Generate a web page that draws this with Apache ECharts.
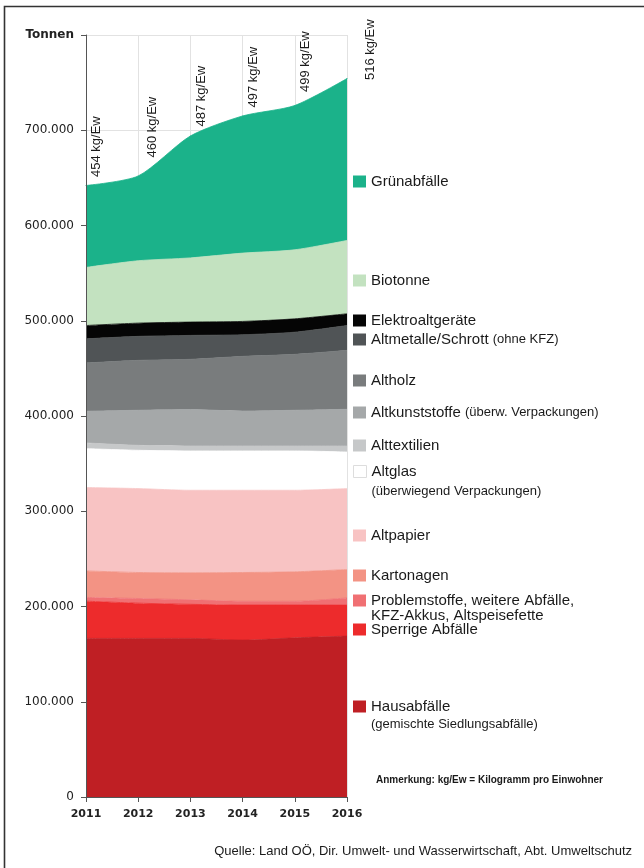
<!DOCTYPE html>
<html><head><meta charset="utf-8">
<script src="https://cdn.jsdelivr.net/npm/echarts@6/dist/echarts.min.js"></script>
<style>html,body{margin:0;padding:0;background:#fff}#c{width:644px;height:868px}</style>
</head><body><div id="c"></div>
<script>
// ---- data ----
const years = ['2011','2012','2013','2014','2015','2016'];
const kgPerEw = [454,460,487,497,499,516];
const yTickLabels = ['0','100.000','200.000','300.000','400.000','500.000','600.000','700.000','Tonnen'];
const hausabfaelle  = [166500,166500,166500,164700,167100,168900];
const sperrige      = [39100,37000,35800,36800,34400,32500];
const problemstoffe = [3900,4900,4700,4000,4000,7600];
const kartonagen    = [27900,27300,28400,30200,30900,29800];
const altpapier     = [87500,88100,86600,86300,85600,85000];
const altglas       = [40800,40200,41300,41300,41300,38400];
const alttextilien  = [6000,5200,5200,5200,5200,6300];
const altkunststoffe= [33300,36800,38200,36700,37500,38500];
const altholz       = [50600,52400,52800,57400,58700,61900];
const altmetalle    = [25400,25200,25100,22700,23300,26100];
const elektro       = [14000,13900,14000,14000,14000,12300];
const biotonne      = [61000,65500,67400,71700,72500,77000];
const gruen         = [86000,89000,128000,144000,151500,170000];

// ---- presentation ----
const FONT = '"Liberation Sans", Arial, sans-serif';
const AXFONT = '"DejaVu Sans", Verdana, sans-serif';
const layers = [
  {name:'Hausabfälle', data:hausabfaelle, color:'#bf1f24', cy:707, text:'{a|Hausabfälle}\n{s2|(gemischte Siedlungsabfälle)}', l2:20},
  {name:'Sperrige Abfälle', data:sperrige, color:'#ed2b2c', cy:630, text:'{a|Sperrige Abfälle}'},
  {name:'Problemstoffe', data:problemstoffe, color:'#f07073', cy:601, text:'{a|Problemstoffe, weitere Abfälle,}\n{a2|KFZ-Akkus, Altspeisefette}', l2:14},
  {name:'Kartonagen', data:kartonagen, color:'#f39384', cy:576, text:'{a|Kartonagen}'},
  {name:'Altpapier', data:altpapier, color:'#f8c3c3', cy:536, text:'{a|Altpapier}'},
  {name:'Altglas', data:altglas, color:'#ffffff', cy:472, text:'{a|Altglas}\n{s2|(überwiegend Verpackungen)}', l2:24, border:true},
  {name:'Alttextilien', data:alttextilien, color:'#c6c8c9', cy:446, text:'{a|Alttextilien}'},
  {name:'Altkunststoffe', data:altkunststoffe, color:'#a5a8a9', cy:413, text:'{a|Altkunststoffe }{s|(überw. Verpackungen)}'},
  {name:'Altholz', data:altholz, color:'#797c7d', cy:381, text:'{a|Altholz}'},
  {name:'Altmetalle/Schrott', data:altmetalle, color:'#505456', cy:340, text:'{a|Altmetalle/Schrott }{s|(ohne KFZ)}'},
  {name:'Elektroaltgeräte', data:elektro, color:'#050505', cy:321, text:'{a|Elektroaltgeräte}'},
  {name:'Biotonne', data:biotonne, color:'#c3e2c0', cy:281, text:'{a|Biotonne}'},
  {name:'Grünabfälle', data:gruen, color:'#1bb28a', cy:182, text:'{a|Grünabfälle}'}
];
const kgLabelPos = [[11,-8],[15,-18],[12,-9],[11,-8],[11,-13],[24,2]];

function richFor(l2){
  return {
    a:{fontFamily:FONT,fontSize:15,lineHeight:16,color:'#1a1a1a'},
    s:{fontFamily:FONT,fontSize:13,lineHeight:16,color:'#1a1a1a'},
    s2:{fontFamily:FONT,fontSize:13,lineHeight:l2||16,color:'#1a1a1a'},
    a2:{fontFamily:FONT,fontSize:15,lineHeight:l2||16,color:'#1a1a1a'}
  };
}

const legends = layers.map(L => {
  const H = 16 + (L.l2 || 0);
  const P = H - 16;
  const lg = {
    data:[L.name], left:353, top:L.cy - 8, padding:0, orient:'vertical',
    icon:'rect', itemWidth:13, itemHeight:12, selectedMode:false,
    formatter: () => L.text,
    textStyle:{rich:richFor(L.l2), padding:[P,0,0,0]}
  };
  if (L.border) lg.itemStyle = {borderColor:'#dddddd', borderWidth:1};
  return lg;
});

const series = layers.map((L, i) => {
  const isTop = i === layers.length - 1;
  const s = {
    name:L.name, type:'line', stack:'total', smooth:0.25,
    symbol:'circle', symbolSize:1, showSymbol:isTop,
    lineStyle:{width:0.8, color:L.color},
    itemStyle:{color:L.color},
    areaStyle:{color:L.color, opacity:1},
    emphasis:{disabled:true}, silent:true, animation:false,
    data: isTop ? L.data.map((v, k) => ({value:v, label:{position:kgLabelPos[k]}})) : L.data
  };
  if (isTop) {
    s.label = {show:true, rotate:90, align:'left', verticalAlign:'middle',
      fontFamily:FONT, fontSize:13, color:'#1a1a1a',
      formatter: p => kgPerEw[p.dataIndex] + ' kg/Ew'};
  }
  return s;
});

const chart = echarts.init(document.getElementById('c'), null, {renderer:'canvas'});
chart.setOption({
  animation:false,
  backgroundColor:'#ffffff',
  grid:{left:86, right:297, top:35, bottom:71},
  legend: legends,
  xAxis:[
    {type:'category', data:years, boundaryGap:false, z:0,
     axisLine:{show:false}, axisTick:{show:false}, axisLabel:{show:false},
     splitLine:{show:true, interval:0, lineStyle:{color:'#e2e2e2', width:1}}},
    {type:'category', data:years, boundaryGap:false, position:'bottom', z:10,
     axisLine:{show:true, lineStyle:{color:'#555', width:1}},
     axisTick:{show:true, length:5, interval:0, lineStyle:{color:'#555'}},
     splitLine:{show:false},
     axisLabel:{interval:0, margin:12, fontFamily:AXFONT, fontWeight:'bold', fontSize:11, color:'#222'}}
  ],
  yAxis:[
    {type:'value', min:0, max:800000, interval:100000, z:0,
     axisLine:{show:false}, axisTick:{show:false}, axisLabel:{show:false},
     splitLine:{show:true, lineStyle:{color:'#e2e2e2', width:1}}},
    {type:'value', min:0, max:800000, interval:100000, position:'left', z:10,
     axisLine:{show:true, lineStyle:{color:'#555', width:1}},
     axisTick:{show:true, length:5, lineStyle:{color:'#555'}},
     splitLine:{show:false},
     axisLabel:{margin:12, fontFamily:AXFONT, fontSize:12, color:'#222',
       formatter: v => { const i = Math.round(v/100000); return i === 8 ? '{b|' + yTickLabels[i] + '}' : yTickLabels[i]; },
       rich:{b:{fontFamily:AXFONT, fontWeight:'bold', fontSize:12, color:'#222'}}}}
  ],
  series: series,
  graphic:[
    {type:'rect', left:2, top:4, shape:{x:0,y:0,width:720,height:920}, style:{fill:'none', stroke:'#333', lineWidth:1.6}, silent:true},
    {type:'text', x:376, y:780, style:{text:'Anmerkung: kg/Ew = Kilogramm pro Einwohner', font:'bold 10px ' + FONT, fill:'#1a1a1a', textVerticalAlign:'middle'}},
    {type:'text', x:632, y:851, style:{text:'Quelle: Land OÖ, Dir. Umwelt- und Wasserwirtschaft, Abt. Umweltschutz', font:'13px ' + FONT, fill:'#1a1a1a', textAlign:'right', textVerticalAlign:'middle'}}
  ]
});
</script></body></html>
